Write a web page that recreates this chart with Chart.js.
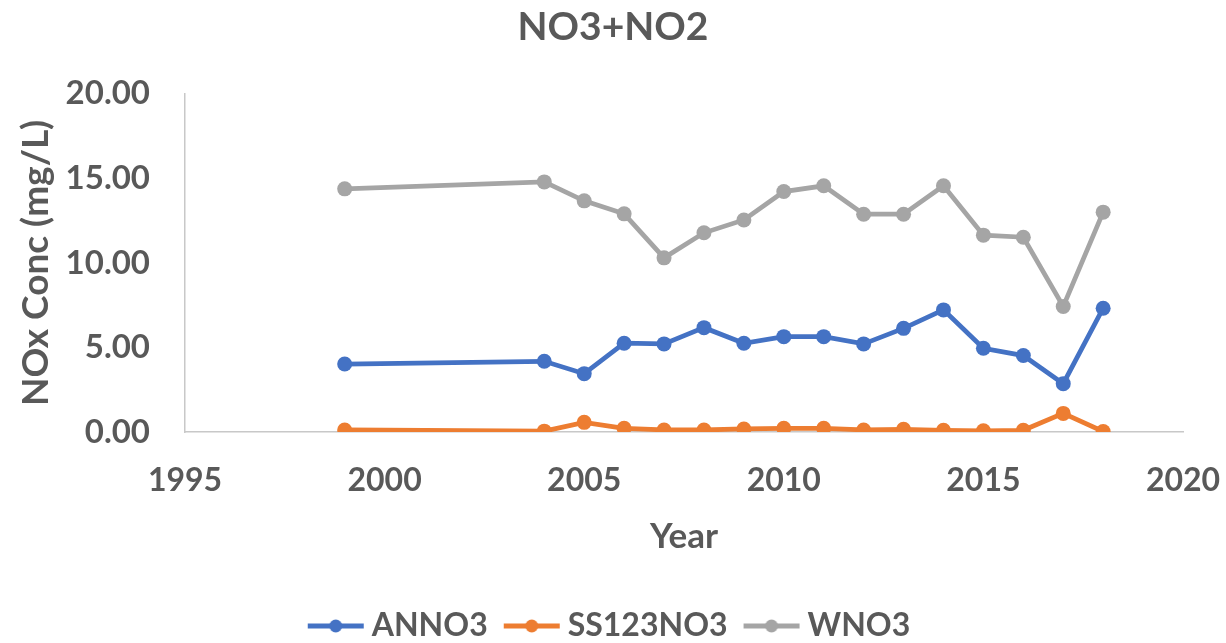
<!DOCTYPE html>
<html>
<head>
<meta charset="utf-8">
<script src="https://cdn.jsdelivr.net/npm/chart.js@4.4.1/dist/chart.umd.min.js"></script>
<style>
  html, body { margin: 0; padding: 0; background: #ffffff; }
  #wrap { width: 1226px; height: 643px; position: relative; }
</style>
</head>
<body>
<div id="wrap"><canvas id="c" width="1226" height="643"></canvas></div>
<script>
// Sampling years and NO3+NO2 concentrations (mg/L) per station
const years = [1999, 2004, 2005, 2006, 2007, 2008, 2009, 2010, 2011, 2012, 2013, 2014, 2015, 2016, 2017, 2018];
const anno3 = [4.02, 4.18, 3.45, 5.25, 5.21, 6.17, 5.25, 5.64, 5.64, 5.21, 6.13, 7.22, 4.95, 4.52, 2.86, 7.32];
const ss123no3 = [0.12, 0.05, 0.57, 0.22, 0.12, 0.12, 0.18, 0.22, 0.22, 0.12, 0.16, 0.10, 0.07, 0.10, 1.10, 0.03];
const wno3 = [14.38, 14.79, 13.67, 12.90, 10.30, 11.78, 12.54, 14.22, 14.56, 12.88, 12.88, 14.56, 11.64, 11.52, 7.42, 13.00];

const seriesNames = ['ANNO3', 'SS123NO3', 'WNO3'];
const seriesColors = ['#4472C4', '#ED7D31', '#A5A5A5'];
const seriesValues = [anno3, ss123no3, wno3];

// Axis ticks: years every 5, concentration every 5 mg/L
const xTickStart = 1995, xTickEnd = 2020, xTickStep = 5;
const yTickStart = 0, yTickEnd = 20, yTickStep = 5;

const FONT = 'Lato, "Open Sans", sans-serif';
const TEXT = '#595959';
const AXIS = '#C8C8C8';

// Line-with-dot swatch for each legend entry
function swatch(color) {
  const cv = document.createElement('canvas');
  cv.width = 58; cv.height = 16;
  const g = cv.getContext('2d');
  g.strokeStyle = color; g.lineWidth = 5; g.lineCap = 'butt';
  g.beginPath(); g.moveTo(1, 8); g.lineTo(57, 8); g.stroke();
  g.fillStyle = color;
  g.beginPath(); g.arc(29, 8, 6.5, 0, Math.PI * 2); g.fill();
  return cv;
}

const datasets = seriesNames.map((name, i) => ({
  label: name,
  data: years.map((y, k) => ({ x: y, y: seriesValues[i][k] })),
  showLine: true,
  borderColor: seriesColors[i],
  backgroundColor: seriesColors[i],
  borderWidth: 4.75,
  pointRadius: 7.5,
  pointHoverRadius: 7.5,
  pointBorderWidth: 0,
  pointStyle: 'circle',
  tension: 0,
  legendSwatch: swatch(seriesColors[i])
}));

new Chart(document.getElementById('c'), {
  type: 'scatter',
  data: { datasets },
  options: {
    responsive: false,
    animation: false,
    layout: { padding: { left: 0, right: 0, top: 0, bottom: -9 } },
    plugins: {
      title: {
        display: true,
        text: 'NO3+NO2',
        color: TEXT,
        font: { family: FONT, size: 39, weight: 'bold' },
        padding: { top: 4, bottom: 43 }
      },
      legend: {
        position: 'bottom',
        labels: {
          color: TEXT,
          font: { family: FONT, size: 32, weight: 'bold' },
          usePointStyle: true,
          pointStyleWidth: 40,
          padding: 24,
          generateLabels: (chart) => chart.data.datasets.map((d, i) => ({
            text: d.label,
            fontColor: TEXT,
            pointStyle: d.legendSwatch,
            datasetIndex: i,
            hidden: false,
            lineWidth: 0,
            strokeStyle: 'transparent',
            fillStyle: d.borderColor
          }))
        }
      },
      tooltip: { enabled: false }
    },
    scales: {
      x: {
        type: 'linear',
        min: xTickStart,
        max: xTickEnd,
        afterFit: s => { s.height = 154; s.paddingRight = 43; },
        ticks: {
          stepSize: xTickStep,
          color: TEXT,
          font: { family: FONT, size: 32, weight: 'bold' },
          padding: 29,
          callback: v => String(v)
        },
        grid: { display: false, drawTicks: false },
        border: { display: true, color: AXIS, width: 1.5 },
        title: {
          display: true,
          text: 'Year',
          color: TEXT,
          font: { family: FONT, size: 35, weight: 'bold' },
          padding: { top: 0, bottom: 28 }
        }
      },
      y: {
        min: yTickStart,
        max: yTickEnd,
        afterFit: s => { s.width = 185; },
        ticks: {
          stepSize: yTickStep,
          color: TEXT,
          font: { family: FONT, size: 33, weight: 'bold' },
          padding: 35,
          callback: v => v.toFixed(2)
        },
        grid: { display: false, drawTicks: false },
        border: { display: true, color: AXIS, width: 1.5 },
        title: {
          display: true,
          text: 'NOx Conc (mg/L)',
          color: TEXT,
          font: { family: FONT, size: 37, weight: 'bold' },
          padding: { top: 14, bottom: 0 }
        }
      }
    }
  }
});
</script>
</body>
</html>
